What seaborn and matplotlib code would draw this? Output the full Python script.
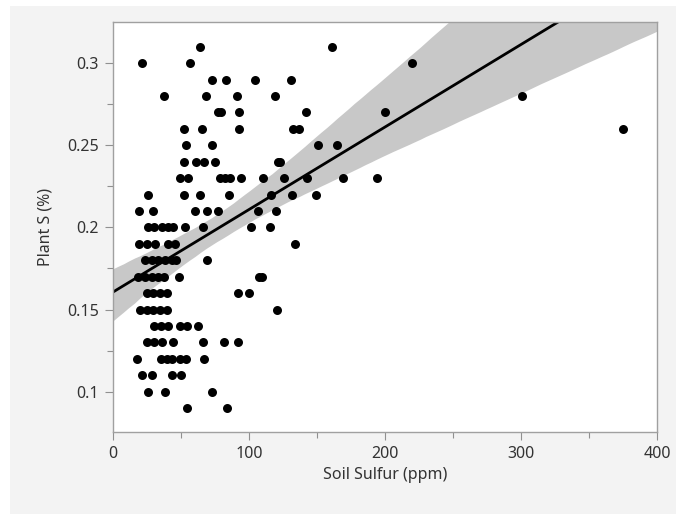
import matplotlib
matplotlib.use("Agg")
import matplotlib.pyplot as plt
from matplotlib.patches import Rectangle
from matplotlib.ticker import MultipleLocator, FixedLocator
import numpy as np
import pandas as pd
import seaborn as sns

# Soil sulfur (ppm) and plant sulfur (%) readings, grouped by plant S level
soil_s = [
    64, 160.8,                                  # 0.31
    21.5, 56.6, 219.6,                          # 0.30
    72.5, 82.8, 104.4, 130.9,                   # 0.29
    37.7, 68.1, 91, 119, 301,                   # 0.28
    77, 79.4, 92.9, 142, 200,                   # 0.27
    52.4, 65.7, 92.9, 132.6, 136.8, 374.8,      # 0.26
    53.7, 72.5, 151, 164.5,                     # 0.25
    52.4, 61, 67.1, 75, 121.6, 122.8,           # 0.24
    49.3, 55.4, 78.7, 82.4, 86, 94, 110.5, 125.7, 142.4, 168.9, 193.9,  # 0.23
    25.5, 52.2, 64, 85.3, 116, 131.4, 149.3,    # 0.22
    19.4, 29.6, 60.3, 69.3, 77.4, 106.9, 119.6, # 0.21
    25.5, 30.3, 35.7, 40.1, 44.3, 52.9, 66.4, 101.5, 115.4,  # 0.20
    19.4, 24.7, 30.9, 40.7, 45.6, 133.8,        # 0.19
    23.5, 28.4, 33.3, 38.2, 43.1, 46, 69.3,     # 0.18
    18.6, 23.5, 28.4, 33.3, 37.6, 48.5, 107.4, 109.6,  # 0.17
    24.7, 29.6, 34.6, 39.5, 92.2, 100,          # 0.16
    19.9, 24.7, 29.6, 34.6, 39.5, 120.3,        # 0.15
    30.4, 35.3, 40.7, 49.3, 54.1, 62.3,         # 0.14
    24.7, 30.4, 35.8, 44.3, 65.9, 81.6, 91.7,   # 0.13
    17.9, 35.3, 39.5, 43.1, 49.3, 53.4, 66.9,   # 0.12
    21, 28.4, 43.1, 50,                         # 0.11
    25.5, 38.2, 72.5,                           # 0.10
    54.1, 84,                                   # 0.09
]
plant_s_levels = [0.31, 0.30, 0.29, 0.28, 0.27, 0.26, 0.25, 0.24, 0.23, 0.22,
                  0.21, 0.20, 0.19, 0.18, 0.17, 0.16, 0.15, 0.14, 0.13, 0.12,
                  0.11, 0.10, 0.09]
level_counts = [2, 3, 4, 5, 5, 6, 4, 6, 11, 7, 7, 9, 6, 7, 8, 6, 6, 6, 7, 7,
                4, 3, 2]
plant_s = np.repeat(plant_s_levels, level_counts)

x_ticks = [0, 100, 200, 300, 400]
y_ticks = [0.1, 0.15, 0.2, 0.25, 0.3]
y_tick_labels = ["0.1", "0.15", "0.2", "0.25", "0.3"]

df = pd.DataFrame({"Soil Sulfur (ppm)": soil_s, "Plant S (%)": plant_s})

sns.set_theme(style="white")
plt.rcParams["font.family"] = ["Noto Sans", "DejaVu Sans"]

fig = plt.figure(figsize=(6.76, 5.14), dpi=100, facecolor="white")
# light grey panel behind the plot
panel = Rectangle((10 / 676, 0), 666 / 676, 1 - 6 / 514,
                  transform=fig.transFigure, facecolor="#f3f3f3",
                  edgecolor="none", zorder=-10)
fig.patches.append(panel)
ax = fig.add_axes([113 / 676, 1 - 432 / 514, 544 / 676, 410 / 514])
ax.set_zorder(1)
ax.set_facecolor("white")

# fix the x range first so the fit and its band span the whole axis
ax.set_xlim(0, 400)
ax.set_ylim(0.0755, 0.325)

sns.regplot(data=df, x="Soil Sulfur (ppm)", y="Plant S (%)", ax=ax,
            truncate=False, ci=95, seed=3, n_boot=2000,
            scatter_kws=dict(s=42, color="black", linewidths=0, alpha=1),
            line_kws=dict(color="black", lw=2.0))

for coll in ax.collections[1:]:
    coll.set_facecolor("#c8c8c8")
    coll.set_alpha(1)
    coll.set_edgecolor("none")
    coll.set_zorder(1)
ax.collections[0].set_zorder(3)
ax.lines[0].set_zorder(2)

ax.set_xlim(0, 400)
ax.set_ylim(0.0755, 0.325)
ax.set_xticks(x_ticks)
ax.set_yticks(y_ticks)
ax.set_yticklabels(y_tick_labels)
ax.xaxis.set_minor_locator(MultipleLocator(50))
ax.yaxis.set_minor_locator(FixedLocator([0.125, 0.175, 0.225, 0.275]))

tick_color = "#909090"
ax.tick_params(axis="both", which="major", direction="out", length=6,
               width=0.8, color=tick_color, labelsize=11.5,
               labelcolor="#333333", pad=4)
ax.tick_params(axis="both", which="minor", direction="out", length=4,
               width=0.8, color=tick_color)
ax.tick_params(axis="x", bottom=True, which="both")
ax.tick_params(axis="y", left=True, which="both")
for side in ["left", "right", "top", "bottom"]:
    ax.spines[side].set_visible(True)
    ax.spines[side].set_color("#a0a0a0")
    ax.spines[side].set_linewidth(1.0)

ax.set_xlabel("Soil Sulfur (ppm)", fontsize=11.5, color="#333333", labelpad=4)
ax.set_ylabel("Plant S (%)", fontsize=11.5, color="#333333", labelpad=10)

fig.savefig("out.png", dpi=100, facecolor=fig.get_facecolor())
